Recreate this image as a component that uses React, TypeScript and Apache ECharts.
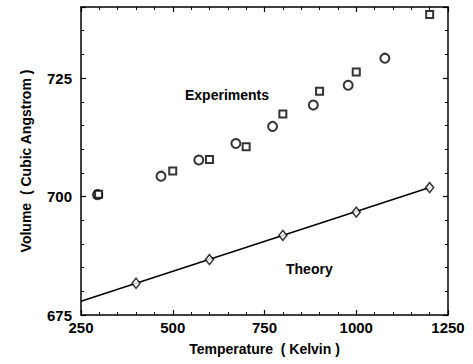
import React, { useEffect, useRef } from "react";
import * as echarts from "echarts";

const circleT = [295, 468, 571, 672, 772, 883, 978, 1078];
const circleV = [700.4, 704.3, 707.7, 711.2, 714.8, 719.3, 723.5, 729.2];
const squareT = [298, 500, 600, 700, 800, 900, 1000, 1200];
const squareV = [700.5, 705.4, 707.8, 710.5, 717.4, 722.2, 726.3, 738.4];
const theoryT = [400, 600, 800, 1000, 1200];
const theoryV = [681.7, 686.7, 691.8, 696.7, 701.9];
const theoryLineT = [250, 1200];
const theoryLineV = [677.9, 701.9];
const xTicks = [250, 500, 750, 1000, 1250];
const yTicks = [675, 700, 725];

const FONT = "'Liberation Sans', Arial, sans-serif";

function xAxisBase() {
  return {
    type: "value" as const,
    axisLine: { show: true, onZero: false, lineStyle: { color: "#000", width: 1.5 } },
    splitLine: { show: false },
    axisTick: { show: true, inside: true, length: 5, lineStyle: { color: "#000", width: 1.2 } },
    minorTick: { show: true, splitNumber: 5, length: 3, lineStyle: { color: "#000", width: 1 } },
  };
}
function yAxisBase() {
  return {
    type: "value" as const,
    axisLine: { show: true, onZero: false, lineStyle: { color: "#000", width: 1.5 } },
    splitLine: { show: false },
    axisTick: { show: true, length: -5, lineStyle: { color: "#000", width: 1.2 } },
    minorTick: { show: true, splitNumber: 5, length: -3, lineStyle: { color: "#000", width: 1 } },
  };
}

export default function App() {
  const ref = useRef<HTMLDivElement>(null);
  useEffect(() => {
    const chart = echarts.init(ref.current!, null, { renderer: "svg" });
    const labelStyle = () => ({ color: "#000", fontFamily: FONT, fontWeight: "bold", fontSize: 15 });
    chart.setOption({
      animation: false,
      backgroundColor: "#fff",
      grid: { left: 81, right: 25, top: 7, bottom: 49 },
      xAxis: [
        {
          ...xAxisBase(),
          min: xTicks[0],
          max: xTicks[xTicks.length - 1],
          interval: 250,
          position: "bottom",
          axisLabel: {
            ...labelStyle(),
            margin: 5,
            formatter: (v: number) => (xTicks.includes(v) ? String(v) : ""),
          },
          name: "Temperature  ( Kelvin )",
          nameLocation: "middle",
          nameGap: 27,
          nameTextStyle: { color: "#000", fontFamily: FONT, fontWeight: "bold", fontSize: 14 },
        },
        {
          ...xAxisBase(),
          min: xTicks[0],
          max: xTicks[xTicks.length - 1],
          interval: 250,
          position: "top",
          axisLabel: { show: false },
        },
      ],
      yAxis: [
        {
          ...yAxisBase(),
          min: yTicks[0],
          max: 740,
          interval: 25,
          position: "left",
          axisLabel: {
            ...labelStyle(),
            margin: 9,
            formatter: (v: number) => (yTicks.includes(v) ? String(v) : ""),
          },
          name: "Volume  ( Cubic Angstrom )",
          nameLocation: "middle",
          nameGap: 48,
          nameTextStyle: { color: "#000", fontFamily: FONT, fontWeight: "bold", fontSize: 14 },
        },
        {
          ...yAxisBase(),
          min: yTicks[0],
          max: 740,
          interval: 25,
          position: "right",
          axisLabel: { show: false },
        },
      ],
      series: [
        {
          type: "line",
          data: theoryLineT.map((t, i) => [t, theoryLineV[i]]),
          showSymbol: false,
          symbol: "none",
          lineStyle: { color: "#000", width: 1.5 },
          z: 1,
        },
        {
          type: "scatter",
          data: theoryT.map((t, i) => [t, theoryV[i]]),
          symbol: "diamond",
          symbolSize: [8, 10],
          itemStyle: { color: "#fff", borderColor: "#000", borderWidth: 1.5 },
          z: 3,
        },
        {
          type: "scatter",
          data: circleT.map((t, i) => [t, circleV[i]]),
          symbol: "circle",
          symbolSize: 9,
          itemStyle: { color: "rgba(255,255,255,0)", borderColor: "#000", borderWidth: 2 },
          z: 3,
        },
        {
          type: "scatter",
          data: squareT.map((t, i) => [t, squareV[i]]),
          symbol: "rect",
          symbolSize: 7,
          itemStyle: { color: "#fff", borderColor: "#000", borderWidth: 2 },
          z: 4,
        },
      ],
      graphic: [
        {
          type: "text",
          left: 185,
          top: 88,
          style: { text: "Experiments", fontFamily: FONT, fontWeight: "bold", fontSize: 14, fill: "#000" },
        },
        {
          type: "text",
          left: 286,
          top: 262,
          style: { text: "Theory", fontFamily: FONT, fontWeight: "bold", fontSize: 14, fill: "#000" },
        },
      ],
    });
    return () => chart.dispose();
  }, []);
  return <div ref={ref} style={{ width: 473, height: 364, position: "absolute", left: 0, top: 0 }} />;
}
